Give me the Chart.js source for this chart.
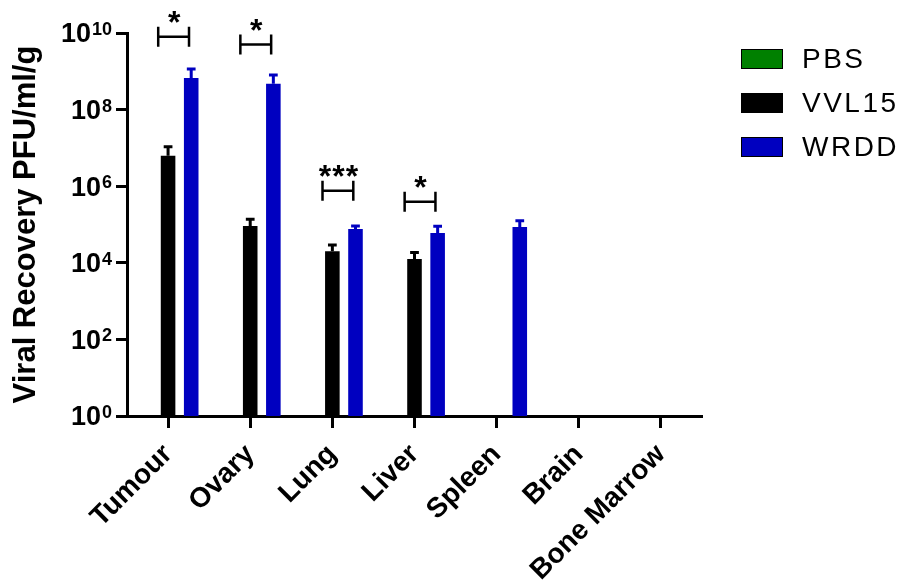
<!DOCTYPE html>
<html>
<head>
<meta charset="utf-8">
<script src="https://cdn.jsdelivr.net/npm/chart.js@4.4.0/dist/chart.umd.min.js"></script>
<style>
html, body { margin:0; padding:0; background:#fff; }
</style>
</head>
<body>
<canvas id="myChart" width="909" height="585"></canvas>
<script>
// data (log scale, PFU/ml/g)
var organs = ["Tumour", "Ovary", "Lung", "Liver", "Spleen", "Brain", "Bone Marrow"];
var pbsData = [null, null, null, null, null, null, null];
var vvl15Data = [6.2e6, 9.2e4, 2.0e4, 1.26e4, null, null, null];
var vvl15Upper = [1.07e7, 1.37e5, 2.9e4, 1.87e4, null, null, null];
var wrddData = [6.7e8, 4.7e8, 7.6e4, 6.0e4, 8.6e4, null, null];
var wrddUpper = [1.15e9, 8.0e8, 9.2e4, 9.0e4, 1.26e5, null, null];
var sigText = ["*", "*", "***", "*", null, null, null];
var sigLevel = [8e9, 5e9, 7.6e5, 3.9e5, null, null, null];
var yTicks = [1, 1e2, 1e4, 1e6, 1e8, 1e10];
var yExp = ["0", "2", "4", "6", "8", "10"];

var FONT = '"Liberation Sans", Arial, sans-serif';

var errorBars = {
    id: "errorBars",
    afterDatasetsDraw: function(chart){
        var ctx = chart.ctx, ys = chart.scales.y;
        var uppers = [null, vvl15Upper, wrddUpper];
        chart.data.datasets.forEach(function(ds, di){
            var up = uppers[di];
            if(!up) return;
            var meta = chart.getDatasetMeta(di);
            meta.data.forEach(function(bar, j){
                if(ds.data[j] == null || up[j] == null) return;
                var y0 = ys.getPixelForValue(ds.data[j]);
                var y1 = ys.getPixelForValue(up[j]);
                var half = bar.width * 0.3;
                ctx.save();
                ctx.strokeStyle = ds.backgroundColor;
                ctx.lineWidth = 3;
                ctx.beginPath();
                ctx.moveTo(bar.x, y0);
                ctx.lineTo(bar.x, y1);
                ctx.moveTo(bar.x - half, y1);
                ctx.lineTo(bar.x + half, y1);
                ctx.stroke();
                ctx.restore();
            });
        });
    }
};

var brackets = {
    id: "brackets",
    afterDatasetsDraw: function(chart){
        var ctx = chart.ctx, xs = chart.scales.x, ys = chart.scales.y;
        var w = xs.width / organs.length;
        ctx.save();
        ctx.strokeStyle = "#000";
        ctx.fillStyle = "#000";
        ctx.lineWidth = 2.5;
        for(var i = 0; i < organs.length; i++){
            if(!sigText[i]) continue;
            var c = xs.getPixelForValue(i);
            var l = c - 0.12 * w, r = c + 0.255 * w;
            var yy = ys.getPixelForValue(sigLevel[i]);
            ctx.beginPath();
            ctx.moveTo(l, yy); ctx.lineTo(r, yy);
            ctx.moveTo(l, yy - 10); ctx.lineTo(l, yy + 10);
            ctx.moveTo(r, yy - 10); ctx.lineTo(r, yy + 10);
            ctx.stroke();
            ctx.font = "bold 32px " + FONT;
            ctx.letterSpacing = "1px";
            ctx.textAlign = "center";
            ctx.textBaseline = "alphabetic";
            ctx.fillText(sigText[i], (l + r) / 2 + 1, yy - 4);
        }
        ctx.restore();
    }
};

var powerLabels = {
    id: "powerLabels",
    afterDraw: function(chart){
        var ctx = chart.ctx, ys = chart.scales.y, a = chart.chartArea;
        var right = a.left - 15;
        ctx.save();
        ctx.fillStyle = "#000";
        ctx.textAlign = "right";
        yTicks.forEach(function(v, i){
            var py = ys.getPixelForValue(v);
            ctx.font = "bold 18px " + FONT;
            var ew = ctx.measureText(yExp[i]).width;
            ctx.textBaseline = "alphabetic";
            ctx.fillText(yExp[i], right, py + 2);
            ctx.font = "bold 27px " + FONT;
            ctx.textBaseline = "middle";
            ctx.fillText("10", right - ew - 1, py + 2);
        });
        ctx.restore();
    }
};

var sideLegend = {
    id: "sideLegend",
    afterDraw: function(chart){
        var ctx = chart.ctx, a = chart.chartArea;
        var x = a.right + 39, y = a.top + 16;
        ctx.save();
        chart.data.datasets.forEach(function(ds, i){
            var top = y + i * 44;
            ctx.fillStyle = ds.backgroundColor;
            ctx.fillRect(x, top, 42, 20);
            ctx.strokeStyle = "#000";
            ctx.lineWidth = 1;
            ctx.strokeRect(x + 0.5, top + 0.5, 41, 19);
            ctx.fillStyle = "#000";
            ctx.font = "28px " + FONT;
            ctx.letterSpacing = "2.5px";
            ctx.textAlign = "left";
            ctx.textBaseline = "middle";
            ctx.fillText(ds.label, x + 61, top + 11);
        });
        ctx.restore();
    }
};

var ctx = document.getElementById("myChart").getContext("2d");

var myChart = new Chart(ctx, {
    type: "bar",
    data: {
        labels: organs,
        datasets: [
            { label: "PBS", data: pbsData, backgroundColor: "#008000" },
            { label: "VVL15", data: vvl15Data, backgroundColor: "#000000" },
            { label: "WRDD", data: wrddData, backgroundColor: "#0000C0" }
        ]
    },
    options: {
        responsive: false,
        animation: false,
        barPercentage: 0.63,
        categoryPercentage: 0.845,
        layout: { padding: { top: 33, right: 207, bottom: 0, left: 0 } },
        plugins: {
            legend: { display: false },
            tooltip: { enabled: false }
        },
        scales: {
            x: {
                offset: true,
                grid: { display: true, drawOnChartArea: false, offset: false, tickLength: 12, tickWidth: 3, tickColor: "#000" },
                border: { display: true, color: "#000", width: 3 },
                ticks: {
                    color: "#000",
                    font: { family: FONT, size: 28, weight: "bold" },
                    minRotation: 45,
                    maxRotation: 45,
                    padding: 10
                },
                afterFit: function(s){ s.height = 169; }
            },
            y: {
                type: "logarithmic",
                min: 1,
                max: 1e10,
                afterBuildTicks: function(s){
                    s.ticks = yTicks.map(function(v){ return { value: v }; });
                },
                grid: { display: true, drawOnChartArea: false, tickLength: 11, tickWidth: 3, tickColor: "#000" },
                border: { display: true, color: "#000", width: 3 },
                ticks: { callback: function(){ return ""; } },
                title: {
                    display: true,
                    text: "Viral Recovery PFU/ml/g",
                    color: "#000",
                    font: { family: FONT, size: 31, weight: "bold" },
                    padding: { top: 8, bottom: 0 }
                },
                afterFit: function(s){ s.width = 127; }
            }
        }
    },
    plugins: [errorBars, brackets, powerLabels, sideLegend]
});
</script>
</body>
</html>
